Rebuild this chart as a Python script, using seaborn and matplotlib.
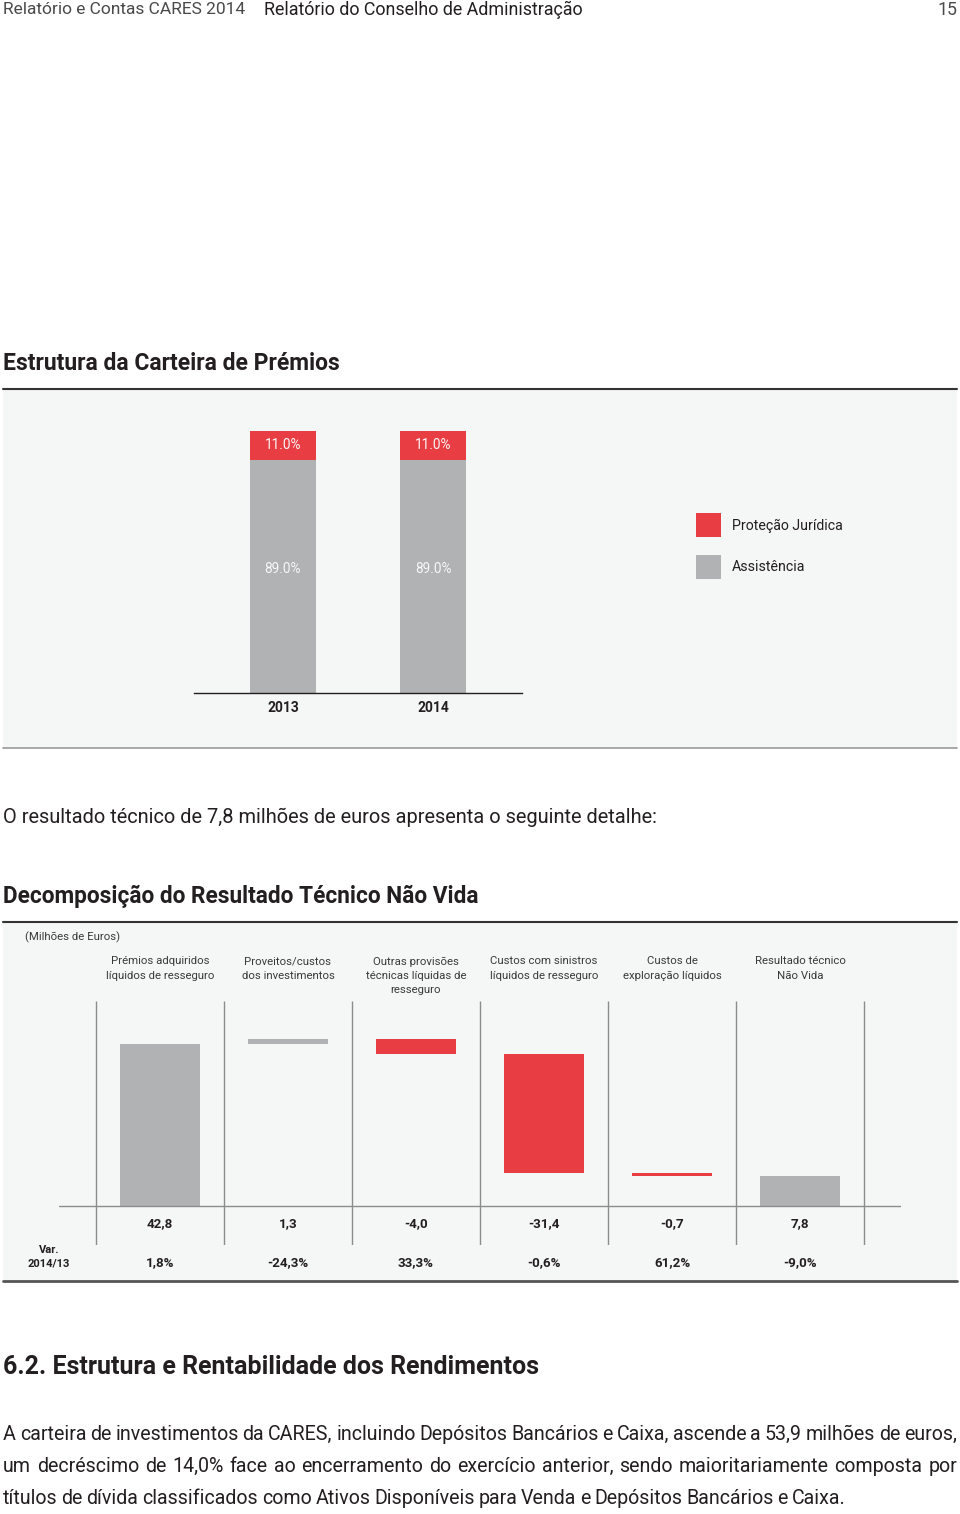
import numpy as np
import matplotlib
matplotlib.use("Agg")
import matplotlib.pyplot as plt
import matplotlib.transforms as mtransforms
from matplotlib.patches import Rectangle, Patch
from matplotlib.lines import Line2D
import seaborn as sns

sns.set_style("white")
plt.rcParams['font.family'] = ['Roboto', 'DejaVu Sans']

RED = '#e93d44'
GRAY = '#b1b2b4'
BG = '#f5f6f6'
DARK = '#231f20'
LINE = '#8c8c8c'

# ============================================
# DADOS
# ============================================

# Estrutura da Carteira de Prémios
years = ['2013', '2014']
assistencia = [89.0, 89.0]
protecao_juridica = [11.0, 11.0]

# Decomposição do Resultado Técnico Não Vida (milhões de euros)
components = ['Prémios adquiridos\nlíquidos de resseguro',
              'Proveitos/custos\ndos investimentos',
              'Outras provisões\ntécnicas líquidas de\nresseguro',
              'Custos com sinistros\nlíquidos de resseguro',
              'Custos de\nexploração líquidos',
              'Resultado técnico\nNão Vida']
values = [42.8, 1.3, -4.0, -31.4, -0.7, 7.8]
variation = [1.8, -24.3, 33.3, -0.6, 61.2, -9.0]

paragraph = [
    "A carteira de investimentos da CARES, incluindo Depósitos Bancários e Caixa, ascende a 53,9 milhões de euros,",
    "um decréscimo de 14,0% face ao encerramento do exercício anterior, sendo maioritariamente composta por",
    "títulos de dívida classificados como Ativos Disponíveis para Venda e Depósitos Bancários e Caixa.",
]

W, H = 960, 1514
fig = plt.figure(figsize=(W / 100, H / 100), dpi=100)


def fx(x):
    return x / W


def fy(y):
    return 1 - y / H


def pt(s):
    return s.replace('.', ',')


# cabeçalho
fig.text(fx(3), fy(10), 'Relatório e Contas CARES 2014', fontsize=12.5,
         color='#4a4a4a', va='center')
fig.text(fx(264), fy(10), 'Relatório do Conselho de Administração', fontsize=12.9,
         color=DARK, va='center')
fig.text(fx(957), fy(10), '15', fontsize=12.8, color='#4a4a4a',
         ha='right', va='center')

# títulos e texto
fig.text(fx(3), fy(363), 'Estrutura da Carteira de Prémios', fontsize=16.5, fontweight='bold',
         color=DARK, va='center')
fig.text(fx(3), fy(817), 'O resultado técnico de 7,8 milhões de euros apresenta o seguinte detalhe:',
         fontsize=14.4, color=DARK, va='center')
fig.text(fx(3), fy(896), 'Decomposição do Resultado Técnico Não Vida', fontsize=16.3,
         fontweight='bold', color=DARK, va='center')
fig.text(fx(3), fy(1367), '6.2. Estrutura e Rentabilidade dos Rendimentos', fontsize=18,
         fontweight='bold', color=DARK, va='center')

# painéis
for top, bottom, bcol, blw in [(390, 748, '#9a9a9a', 1.2), (923, 1281, '#555555', 2)]:
    fig.add_artist(Rectangle((fx(3), fy(bottom)), 954 / W, (bottom - top) / H,
                             transform=fig.transFigure, facecolor=BG, edgecolor='none', zorder=-1))
    fig.add_artist(Line2D([fx(3), fx(957)], [fy(top - 1)] * 2, color='#333333', lw=1.5))
    fig.add_artist(Line2D([fx(3), fx(957)], [fy(bottom)] * 2, color=bcol, lw=blw))

# ============================================
# 1. ESTRUTURA DA CARTEIRA
# ============================================

ax1 = fig.add_axes([fx(194), fy(693), (522 - 194) / W, (693 - 431) / H])
total = [a + p for a, p in zip(assistencia, protecao_juridica)]
sns.barplot(x=years, y=total, color=RED, saturation=1, width=0.44, linewidth=0, ax=ax1)
sns.barplot(x=years, y=assistencia, color=GRAY, saturation=1, width=0.44, linewidth=0, ax=ax1)

for i in range(len(years)):
    ax1.text(i, assistencia[i] + protecao_juridica[i] / 2, f'{protecao_juridica[i]:.1f}%',
             ha='center', va='center', color='#f7f7f7', fontsize=9.8)
    ax1.text(i, assistencia[i] / 2 + 3, f'{assistencia[i]:.1f}%',
             ha='center', va='center', color='#f7f7f7', fontsize=9.8)

ax1.set_xlim(-0.593, 1.593)
ax1.set_ylim(0, 100)
ax1.set_facecolor('none')
ax1.set_yticks([])
ax1.set_xlabel('')
ax1.set_ylabel('')
for s in ['top', 'left', 'right']:
    ax1.spines[s].set_visible(False)
ax1.spines['bottom'].set_color(DARK)
ax1.spines['bottom'].set_linewidth(1)
ax1.tick_params(axis='x', length=0, pad=6, labelsize=10, colors=DARK)
for lab in ax1.get_xticklabels():
    lab.set_fontweight('bold')

handles = [Patch(facecolor=RED, edgecolor='none'), Patch(facecolor=GRAY, edgecolor='none')]
fig.legend(handles, ['Proteção Jurídica', 'Assistência'], loc='upper left',
           bbox_to_anchor=(fx(696), fy(513)), bbox_transform=fig.transFigure,
           frameon=False, borderpad=0, borderaxespad=0, handlelength=1.73, handleheight=2.28,
           labelspacing=1.22, handletextpad=0.8, fontsize=10.2, labelcolor=DARK)

# ============================================
# 2. DECOMPOSIÇÃO DO RESULTADO TÉCNICO
# ============================================

ax2 = fig.add_axes([fx(59), fy(1245), 842 / W, (1245 - 1001) / H])
running = np.cumsum(values[:-1])
bottoms = list(np.concatenate([[0], running[:-1]])) + [0]
sns.barplot(x=components, y=values, order=components, bottom=bottoms, color=GRAY,
            saturation=1, width=0.625, linewidth=0, ax=ax2)
for patch, v in zip(ax2.patches, values):
    if v < 0:
        patch.set_facecolor(RED)

ax2.set_xlim(-0.789, 5.789)
ax2.set_ylim(-10.3, 54.16)
ax2.set_facecolor('none')
ax2.set_xticks([])
ax2.set_yticks([])
ax2.set_xlabel('')
ax2.set_ylabel('')
sns.despine(ax=ax2, left=True, bottom=True)
ax2.vlines(np.arange(-0.5, len(values)), -10.3, 54.16, color=LINE, lw=1)
ax2.axhline(0, color=LINE, lw=1)

blend = mtransforms.blended_transform_factory(ax2.transData, fig.transFigure)
for i, (c, v, var) in enumerate(zip(components, values, variation)):
    ax2.text(i, fy(956.5), c, transform=blend, ha='center', va='top', fontsize=8.2,
             linespacing=1.52, color='#3a3a3a')
    ax2.text(i, fy(1224), pt(f'{v:.1f}'), transform=blend, ha='center', va='center',
             fontsize=9.6, fontweight='bold', color=DARK)
    ax2.text(i, fy(1263), pt(f'{var:.1f}%'), transform=blend, ha='center', va='center',
             fontsize=9.6, fontweight='bold', color=DARK, clip_on=False)

fig.text(fx(25), fy(937), '(Milhões de Euros)', fontsize=8.2, color='#3a3a3a', va='center')
fig.text(fx(49), fy(1257), 'Var.\n2014/13', fontsize=8, fontweight='bold', color=DARK,
         ha='center', va='center', linespacing=1.4)

# ============================================
# 3. PARÁGRAFO JUSTIFICADO
# ============================================

renderer = fig.canvas.get_renderer()
x0, x1 = 3, 957
for k, (line, y) in enumerate(zip(paragraph, [1434, 1466, 1498])):
    words = line.split()
    texts = [fig.text(0, fy(y), w, fontsize=14.1, color=DARK, va='center') for w in words]
    widths = [t.get_window_extent(renderer).width for t in texts]
    if k == len(paragraph) - 1:
        gap = 3.8
    else:
        gap = (x1 - x0 - sum(widths)) / (len(words) - 1)
    x = x0
    for t, w in zip(texts, widths):
        t.set_x(fx(x))
        x += w + gap

fig.savefig('out.png', dpi=100)
